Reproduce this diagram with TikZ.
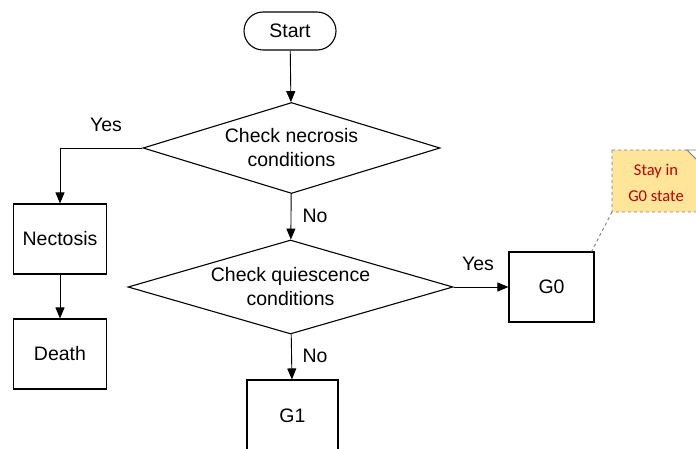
\documentclass[tikz,border=0pt]{standalone}
\usepackage{fontspec}
\setmainfont{Liberation Sans}
\newfontfamily\notefont{Carlito}
\usetikzlibrary{shapes.geometric,arrows.meta}
\definecolor{notefill}{RGB}{255,229,153}
\definecolor{notetext}{RGB}{192,0,0}
\definecolor{noteline}{RGB}{128,128,128}

\begin{document}
\begin{tikzpicture}[x=1pt,y=-1pt,
  font=\fontsize{19.5}{24}\selectfont,
  stepbox/.style={draw, line width=1.1pt, minimum width=93pt, minimum height=70pt, inner sep=0pt, align=center},
  terminal/.style={draw, line width=1.1pt, rounded corners=19pt, minimum width=92pt, minimum height=38pt, inner sep=0pt},
  decision/.style={draw, diamond, line width=1.1pt, inner sep=0pt, align=center},
  flow/.style={-{Triangle[length=11pt,width=9pt]}, line width=0.9pt},
  lbl/.style={inner sep=0pt}
]
\useasboundingbox (0,0) rectangle (696,449);

% main column
\node[terminal] (start) at (290,31) {Start};
\node[decision, minimum width=297pt, minimum height=91pt, aspect=3.2] (necro) at (291.5,148) {Check necrosis\\conditions};
\node[decision, minimum width=325pt, minimum height=94pt, aspect=3.4] (quies) at (290.5,287) {Check quiescence\\conditions};
\node[stepbox, minimum width=91pt, minimum height=72pt] (g1) at (292.5,416) {G1};

% side branches
\node[stepbox] (nect) at (60,239) {Nectosis};
\node[stepbox] (death) at (60,354) {Death};
\node[stepbox, minimum width=85pt] (g0) at (551.5,287) {G0};

% connectors
\draw[flow] (start) -- (necro);
\draw[flow] (necro) -- (quies);
\draw[flow] (quies) -- (g1);
\draw[flow] (necro.west) -| (nect.north);
\draw[flow] (nect) -- (death);
\draw[flow] (quies.east) -- (g0.west);

% branch labels
\node[lbl] (yes1) at (106,125) {Yes};
\node[lbl] (no1) at (315,216) {No};
\node[lbl] (no2) at (315,356) {No};
\node[lbl] (yes2) at (478,264) {Yes};

% annotation note with folded corner
\draw[noteline, dashed, line width=0.9pt, fill=notefill]
  (612,150) -- (687,150) -- (699,162) -- (699,212) -- (612,212) -- cycle;
\draw[noteline, line width=0.8pt, fill=white] (687,150) -- (699,162) -- (699,150) -- cycle;
\coordinate (notecorner) at (612,212);
\node[font=\notefont\fontsize{16.5}{26}\selectfont, text=notetext, align=center, inner sep=0pt] (note) at (656,183) {Stay in\\G0 state};
\draw[noteline, dashed, line width=0.9pt] (notecorner) -- ([xshift=-3pt]g0.north east);
\end{tikzpicture}
\end{document}
